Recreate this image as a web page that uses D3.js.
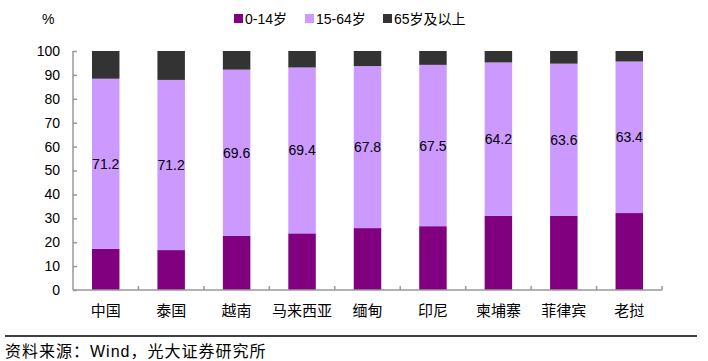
<!DOCTYPE html>
<html><head><meta charset="utf-8">
<script src="https://cdn.jsdelivr.net/npm/d3@7/dist/d3.min.js"></script>
<style>body{margin:0;background:#fff}svg{display:block}</style>
</head><body><svg id="c" width="708" height="361"></svg>
<script>
const categories = ["中国","泰国","越南","马来西亚","缅甸","印尼","柬埔寨","菲律宾","老挝"];
const age0_14 = [17.2,16.7,22.6,23.7,25.9,26.7,31.0,31.1,32.2];
const age15_64 = [71.2,71.2,69.6,69.4,67.8,67.5,64.2,63.6,63.4];
const age65 = [11.6,12.1,7.8,6.9,6.3,5.8,4.8,5.3,4.4];
const seriesNames = ["0-14岁","15-64岁","65岁及以上"];
const yTicks = [0,10,20,30,40,50,60,70,80,90,100];
const colors = ["#800080","#cc99ff","#333333"];

const svg = d3.select("#c");
const x = d3.scaleBand().domain(categories).range([73,662]).paddingInner(0.58).paddingOuter(0.29);
const y = d3.scaleLinear().domain([0,100]).range([290,51]);
const font = "Liberation Sans, Arial, sans-serif";
const cjk = "'Noto Sans CJK SC', sans-serif";

const rows = categories.map((c,i)=>({cat:c, a:age0_14[i], b:age15_64[i], c:age65[i]}));
const stack = d3.stack().keys(["a","b","c"])(rows);

stack.forEach((s,si)=>{
  svg.append("g").selectAll("rect").data(s).join("rect")
    .attr("x",d=>x(d.data.cat)).attr("width",x.bandwidth())
    .attr("y",d=>y(d[1])).attr("height",d=>y(d[0])-y(d[1]))
    .attr("fill",colors[si]);
});
// labels
svg.append("g").selectAll("text").data(stack[1]).join("text")
  .attr("x",d=>x(d.data.cat)+x.bandwidth()/2).attr("y",d=>y((d[0]+d[1])/2)+5)
  .attr("text-anchor","middle").attr("font-family",font).attr("font-size",14).attr("fill","#000")
  .text(d=>d.data.b.toFixed(1));

// axes
const ax = "#999";
const yAxis = svg.append("g").attr("transform","translate(73,0)")
  .call(d3.axisLeft(y).tickValues(yTicks).tickSize(-4).tickPadding(13));
yAxis.select(".domain").attr("stroke",ax).attr("stroke-width",1.5).attr("d","M0,51V290");
yAxis.selectAll(".tick line").attr("stroke",ax).attr("stroke-width",1.5);
yAxis.selectAll("text").attr("font-family",font).attr("font-size",14).attr("fill","#000");

const boundaries = d3.range(categories.length+1).map(i=>73+i*(662-73)/categories.length);
svg.append("line").attr("x1",73).attr("x2",662).attr("y1",290).attr("y2",290).attr("stroke",ax).attr("stroke-width",1.5);
svg.append("g").selectAll("line").data(boundaries.slice(1)).join("line")
  .attr("x1",d=>d).attr("x2",d=>d).attr("y1",290).attr("y2",286).attr("stroke",ax).attr("stroke-width",1.5);
svg.append("g").selectAll("text").data(categories).join("text")
  .attr("x",d=>x(d)+x.bandwidth()/2).attr("y",316).attr("text-anchor","middle")
  .attr("font-family",cjk).attr("font-size",15).attr("fill","#000").text(d=>d);

svg.append("text").attr("x",42).attr("y",24).attr("font-family",font).attr("font-size",14).text("%");

// legend
const lx = [234,305,383];
seriesNames.forEach((n,i)=>{
  svg.append("rect").attr("x",lx[i]).attr("y",14).attr("width",9).attr("height",9).attr("fill",colors[i]);
  svg.append("text").attr("x",lx[i]+11).attr("y",24).attr("font-family",font+", 'Noto Sans CJK SC'").attr("font-size",14).text(n);
});

svg.append("line").attr("x1",5).attr("x2",697).attr("y1",336).attr("y2",336).attr("stroke","#000").attr("stroke-width",1.5);
svg.append("text").attr("x",5).attr("y",357).attr("font-family",font+", 'Noto Sans CJK SC'").attr("font-size",16).attr("letter-spacing",1).text("资料来源：Wind，光大证券研究所");
</script></body></html>
